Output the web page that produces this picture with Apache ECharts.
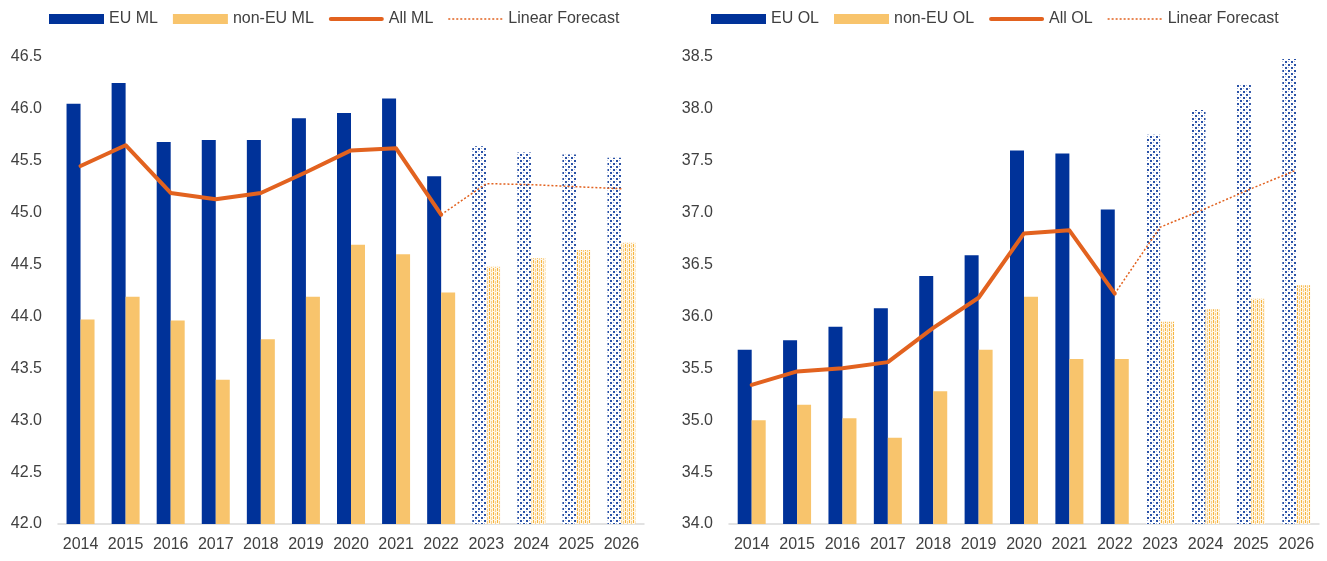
<!DOCTYPE html>
<html>
<head>
<meta charset="utf-8">
<script src="https://cdn.jsdelivr.net/npm/echarts@6/dist/echarts.min.js"></script>
<style>
  html, body { margin: 0; padding: 0; background: #ffffff; }
  #chart { width: 1327px; height: 561px; }
</style>
</head>
<body>
<div id="chart"></div>
<script>
// Years on the category axis; the last four are projections
const years = ['2014', '2015', '2016', '2017', '2018', '2019', '2020', '2021', '2022', '2023', '2024', '2025', '2026'];
const firstForecastIndex = 9;

// Median (ML) panel
const euML    = [46.05, 46.25, 45.68, 45.70, 45.70, 45.91, 45.96, 46.10, 45.35, 45.64, 45.58, 45.56, 45.53];
const nonEuML = [43.97, 44.19, 43.96, 43.39, 43.78, 44.19, 44.69, 44.60, 44.23, 44.48, 44.56, 44.64, 44.71];
const allML   = [45.45, 45.65, 45.19, 45.13, 45.19, 45.39, 45.60, 45.62, 44.98];
const forecastML = [44.98, 45.28, 45.27, 45.25, 45.23];   // 2022..2026

// OL panel
const euOL    = [35.68, 35.77, 35.90, 36.08, 36.39, 36.59, 37.60, 37.57, 37.03, 37.75, 37.99, 38.23, 38.48];
const nonEuOL = [35.00, 35.15, 35.02, 34.83, 35.28, 35.68, 36.19, 35.59, 35.59, 35.95, 36.07, 36.17, 36.30];
const allOL   = [35.34, 35.47, 35.50, 35.56, 35.89, 36.18, 36.80, 36.83, 36.22];
const forecastOL = [36.22, 36.86, 37.04, 37.23, 37.41];   // 2022..2026

const BLUE = '#003299';
const YELLOW = '#F8C46C';
const ORANGE = '#E2621F';
const TEXT = '#404040';
const FONT = 'Liberation Sans, Arial, sans-serif';

// Dotted fill for projected EU bars
function bluePattern() {
  const c = document.createElement('canvas');
  c.width = 6; c.height = 6;
  const g = c.getContext('2d');
  g.fillStyle = '#ffffff';
  g.fillRect(0, 0, 6, 6);
  g.fillStyle = '#2a52a8';
  g.fillRect(1, 1, 2, 2);
  g.fillRect(4, 4, 2, 2);
  g.fillStyle = '#9fb2da';
  g.fillRect(4, 1, 1, 1);
  g.fillRect(1, 4, 1, 1);
  return c;
}
// Striped fill for projected non-EU bars
function yellowPattern() {
  const c = document.createElement('canvas');
  c.width = 4; c.height = 4;
  const g = c.getContext('2d');
  g.fillStyle = '#fff6e6';
  g.fillRect(0, 0, 4, 4);
  g.fillStyle = '#f6b540';
  g.fillRect(1, 0, 1, 3);
  g.fillStyle = '#f9d089';
  g.fillRect(3, 1, 1, 3);
  return c;
}
const bluePat = { image: bluePattern(), repeat: 'repeat' };
const yellowPat = { image: yellowPattern(), repeat: 'repeat' };

// Legend icons: thick rounded stroke and thin dotted stroke
const solidLineIcon = 'path://M2,0 L53,0 A2,2 0 0 1 53,4 L2,4 A2,2 0 0 1 2,0 Z';
function dottedLineIcon() {
  let p = 'path://M0,0 L55,0 L55,0.01 L0,0.01 Z';
  for (let x = 0; x < 55; x += 4) p += ' M' + x + ',0 L' + (x + 2) + ',0 L' + (x + 2) + ',1.5 L' + x + ',1.5 Z';
  return p;
}
const dottedIcon = dottedLineIcon();

function barData(values, pattern) {
  return values.map((v, i) => i >= firstForecastIndex ? { value: v, itemStyle: { color: pattern } } : v);
}
function forecastData(values) {
  const out = years.map(() => '-');
  values.forEach((v, k) => { out[firstForecastIndex - 1 + k] = v; });
  return out;
}

function panelSeries(idx, names, eu, nonEu, all, fc) {
  return [
    { name: names[0], type: 'bar', xAxisIndex: idx, yAxisIndex: idx, barWidth: 14, barGap: '0%',
      itemStyle: { color: BLUE }, data: barData(eu, bluePat) },
    { name: names[1], type: 'bar', xAxisIndex: idx, yAxisIndex: idx, barWidth: 14, barGap: '0%',
      itemStyle: { color: YELLOW }, data: barData(nonEu, yellowPat) },
    { name: names[2], type: 'line', xAxisIndex: idx, yAxisIndex: idx, symbol: 'none',
      lineStyle: { color: ORANGE, width: 4, cap: 'round', join: 'round' },
      itemStyle: { color: ORANGE }, data: all },
    { name: 'Linear Forecast', type: 'line', xAxisIndex: idx, yAxisIndex: idx, symbol: 'none',
      lineStyle: { color: ORANGE, width: 1.5, type: [2, 2] },
      itemStyle: { color: ORANGE }, data: forecastData(fc) }
  ];
}

function xAxis(gridIndex) {
  return {
    type: 'category', gridIndex, data: years,
    axisLine: { lineStyle: { color: '#d9d9d9', width: 1.5 } },
    axisTick: { show: false },
    axisLabel: { color: TEXT, fontSize: 16, fontFamily: FONT, margin: 13, interval: 0 }
  };
}
function yAxis(gridIndex, min, max) {
  return {
    type: 'value', gridIndex, min, max, interval: 0.5,
    axisLine: { show: false }, axisTick: { show: false }, splitLine: { show: false },
    axisLabel: { color: TEXT, fontSize: 16, fontFamily: FONT, margin: 16,
                 formatter: v => v.toFixed(1) }
  };
}
function legend(left, names) {
  return {
    left, top: 6, itemWidth: 55, itemHeight: 10, itemGap: 15,
    textStyle: { color: TEXT, fontSize: 16, fontFamily: FONT },
    data: [
      { name: names[0], icon: 'rect' },
      { name: names[1], icon: 'rect' },
      { name: names[2], icon: solidLineIcon },
      { name: 'Linear Forecast', icon: dottedIcon }
    ],
    selectedMode: false
  };
}

const namesML = ['EU ML', 'non-EU ML', 'All ML'];
const namesOL = ['EU OL', 'non-EU OL', 'All OL'];

const chart = echarts.init(document.getElementById('chart'), null, { renderer: 'canvas' });
chart.setOption({
  animation: false,
  backgroundColor: '#ffffff',
  legend: [legend(44, namesML), legend(706, namesOL)],
  grid: [
    { left: 58, width: 586, top: 57, bottom: 37 },
    { left: 729, width: 590, top: 57, bottom: 37 }
  ],
  xAxis: [xAxis(0), xAxis(1)],
  yAxis: [yAxis(0, 42, 46.5), yAxis(1, 34, 38.5)],
  series: [
    ...panelSeries(0, namesML, euML, nonEuML, allML, forecastML),
    ...panelSeries(1, namesOL, euOL, nonEuOL, allOL, forecastOL)
  ]
});
</script>
</body>
</html>
